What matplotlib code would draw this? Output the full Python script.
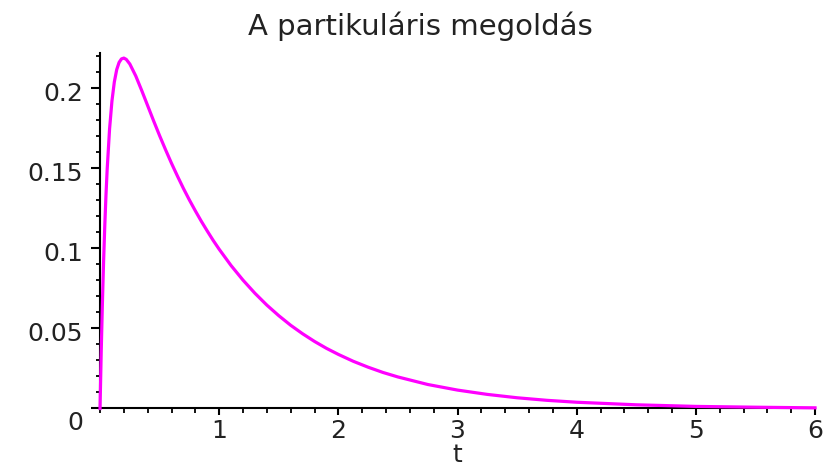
import matplotlib
matplotlib.use("Agg")
import matplotlib.pyplot as plt
import matplotlib.transforms as mtransforms
from matplotlib.ticker import MultipleLocator

title = "A partikuláris megoldás"
x_label = "t"

# sampled solution values y(t)
t_vals = [0.0, 0.01, 0.02, 0.03, 0.04, 0.05, 0.06, 0.08, 0.10, 0.12, 0.14,
          0.16, 0.18, 0.20, 0.22, 0.25, 0.30, 0.35, 0.40, 0.45, 0.50, 0.55,
          0.60, 0.65, 0.70, 0.75, 0.80, 0.85, 0.90, 0.95, 1.0, 1.1, 1.2,
          1.3, 1.4, 1.5, 1.6, 1.7, 1.8, 1.9, 2.0, 2.125, 2.25, 2.375, 2.5,
          2.75, 3.0, 3.25, 3.5, 3.75, 4.0, 4.5, 5.0, 5.5, 6.0]
y_vals = [0.0, 0.0356, 0.0662, 0.0923, 0.1146, 0.1335, 0.1496, 0.1747,
          0.1922, 0.2041, 0.2118, 0.2163, 0.2185, 0.2190, 0.2182, 0.2153,
          0.2078, 0.1987, 0.1892, 0.1797, 0.1705, 0.1617, 0.1532, 0.1452,
          0.1375, 0.1303, 0.1235, 0.1170, 0.1109, 0.1050, 0.0995, 0.0893,
          0.0802, 0.0720, 0.0646, 0.0580, 0.0520, 0.0467, 0.0419, 0.0376,
          0.0338, 0.0295, 0.0258, 0.0225, 0.0197, 0.0150, 0.0115, 0.0088,
          0.0067, 0.0051, 0.0039, 0.0023, 0.0013, 0.0008, 0.0004]

x_ticks = [1, 2, 3, 4, 5, 6]
x_tick_labels = ["1", "2", "3", "4", "5", "6"]
y_ticks = [0, 0.05, 0.1, 0.15, 0.2]
y_tick_labels = ["0", "0.05", "0.1", "0.15", "0.2"]

plt.rcParams["font.family"] = ["DejaVu Sans"]
text_color = "#222222"

fig = plt.figure(figsize=(8.24, 4.67), dpi=100)
ax = fig.add_axes([0.1214, 0.1253, 0.8677, 0.7606])

ax.plot(t_vals, y_vals, color="#ff00ff", linewidth=2.3, solid_joinstyle="round",
        clip_on=False, zorder=3)

ax.set_xlim(0, 6)
ax.set_ylim(0, 0.222)

for side in ("top", "right"):
    ax.spines[side].set_visible(False)
for side in ("left", "bottom"):
    ax.spines[side].set_linewidth(1.5)
    ax.spines[side].set_color("black")

ax.set_xticks(x_ticks)
ax.set_xticklabels(x_tick_labels)
ax.set_yticks(y_ticks)
ax.set_yticklabels(y_tick_labels)
ax.xaxis.set_minor_locator(MultipleLocator(0.2))
ax.yaxis.set_minor_locator(MultipleLocator(0.01))

ax.tick_params(axis="x", which="major", direction="out", length=5, width=1.5,
               pad=2.5, labelsize=18, labelcolor=text_color)
ax.tick_params(axis="x", which="minor", direction="out", length=3.5, width=1.3)
ax.tick_params(axis="y", which="major", direction="out", length=6.5, width=1.5,
               pad=5.5, labelsize=18, labelcolor=text_color)
ax.tick_params(axis="y", which="minor", direction="out", length=3, width=1.3)

# nudge y tick labels slightly below their ticks, the zero label further
for lab in ax.get_yticklabels():
    dy = -0.12 if lab.get_text() == "0" else -0.03
    lab.set_transform(lab.get_transform()
                      + mtransforms.ScaledTranslation(0, dy, fig.dpi_scale_trans))

ax.set_xlabel(x_label, fontsize=18, color=text_color, va="top")
ax.xaxis.set_label_coords(0.5, -0.097)

fig.text(0.5103, 0.925, title, ha="center", va="baseline", fontsize=21,
         color=text_color)

fig.savefig("out.png", dpi=100)
